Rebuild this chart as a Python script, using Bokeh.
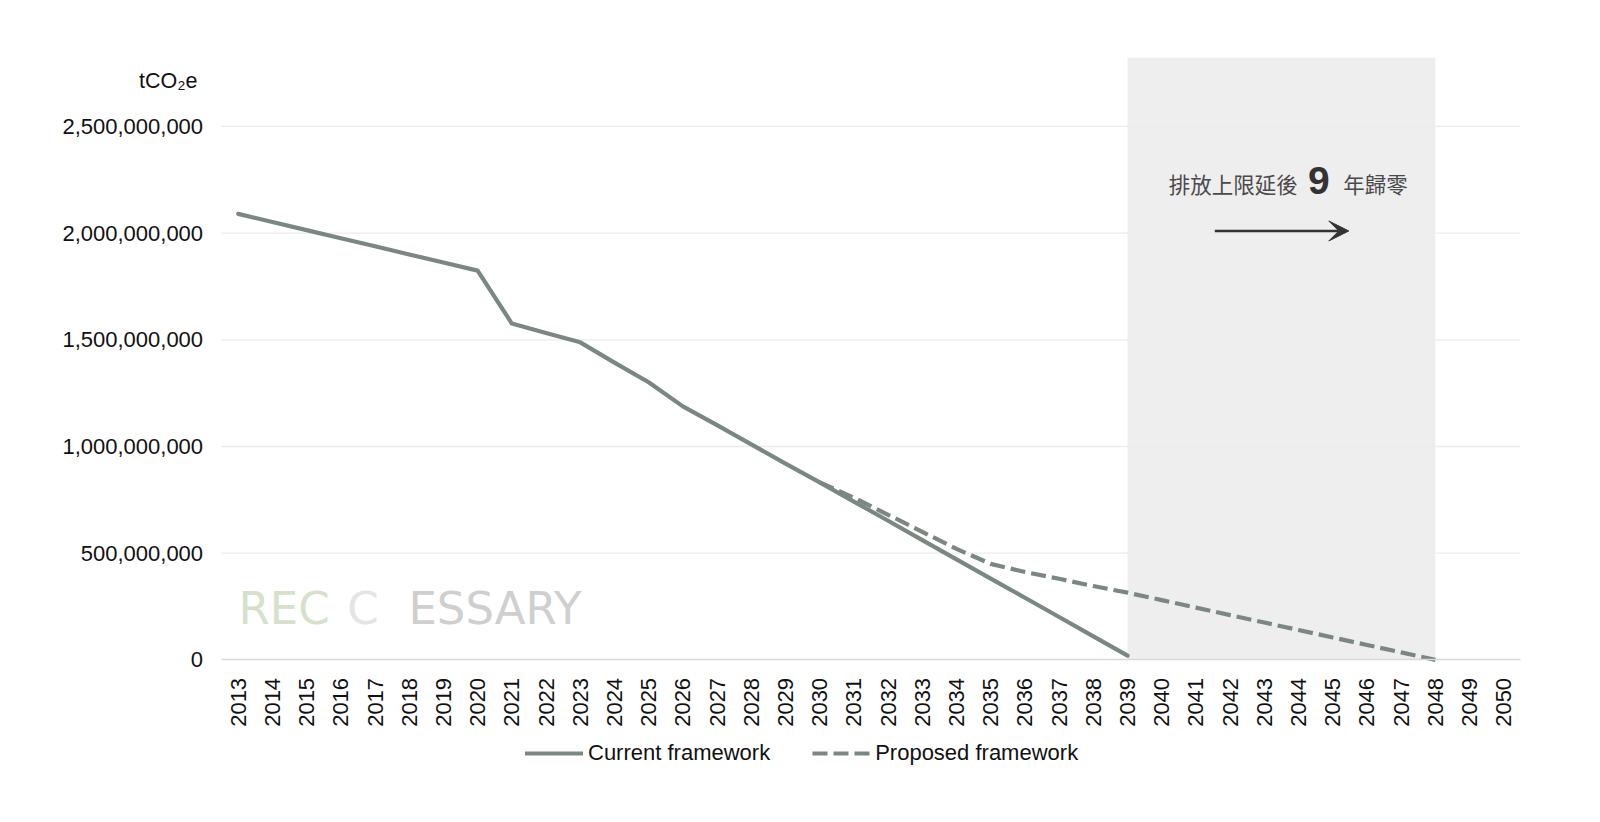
from bokeh.plotting import figure
from bokeh.models import (Range1d, FixedTicker, NumeralTickFormatter, BoxAnnotation, Label,
                          Legend, LegendItem, Arrow, VeeHead, ColumnDataSource)
from bokeh.core.properties import value
from bokeh.embed import file_html
from bokeh.resources import INLINE

# ---------------- data ----------------
years = list(range(2013, 2051))
current_years = list(range(2013, 2040))
current_values = [2.090e9, 2.052e9, 2.014e9, 1.976e9, 1.938e9, 1.900e9, 1.862e9, 1.824e9,
                  1.576e9, 1.532e9, 1.488e9, 1.393e9, 1.301e9, 1.188e9, 1.100e9, 1.010e9,
                  0.920e9, 0.832e9, 0.742e9, 0.652e9, 0.561e9, 0.471e9, 0.381e9, 0.291e9,
                  0.201e9, 0.110e9, 0.020e9]
proposed_years = list(range(2030, 2049))
proposed_values = [0.832e9, 0.760e9, 0.680e9, 0.600e9, 0.520e9, 0.450e9, 0.412e9, 0.380e9,
                   0.346e9, 0.315e9, 0.280e9, 0.245e9, 0.210e9, 0.175e9, 0.140e9, 0.105e9,
                   0.070e9, 0.035e9, 0.0]
y_ticks = [0, 500_000_000, 1_000_000_000, 1_500_000_000, 2_000_000_000, 2_500_000_000]
band_start, band_end = 2039, 2048
series_names = ["Current framework", "Proposed framework"]
y_title = "tCO\u2082e"
note_parts = ["排放上限延後", "9", "年歸零"]
watermark_parts = ["REC", "C", "ESSARY"]

LINE = "#7b8781"
FONT = "Liberation Sans"

# plot-area extents (data units)
X_LEFT, X_RIGHT = 2012.5, 2050.488
Y_TOP = 2.8215e9

p = figure(width=1584, height=806, output_backend="svg", toolbar_location=None,
           x_range=Range1d(2006.051, 2052.359), y_range=Range1d(-6.870e8, 3.0899e9),
           min_border=0, min_border_left=0, min_border_right=0,
           min_border_top=0, min_border_bottom=0)
p.outline_line_color = None
p.background_fill_color = "white"
p.border_fill_color = "white"
p.xgrid.grid_line_color = None
p.ygrid.grid_line_color = None

# shaded band
band = BoxAnnotation(left=band_start, right=band_end, bottom=0, top=Y_TOP,
                     fill_color="#eeeeee", fill_alpha=1.0, line_color=None, level="underlay")
p.add_layout(band)

# horizontal gridlines limited to the plot area
grid_y = y_ticks[1:]
p.segment(x0=[X_LEFT] * len(grid_y), x1=[X_RIGHT] * len(grid_y), y0=grid_y, y1=grid_y,
          line_color="#ececec", line_width=1.3)

# axes
p.xaxis.fixed_location = 0
p.xaxis.bounds = (X_LEFT, X_RIGHT)
p.xaxis.ticker = FixedTicker(ticks=years)
p.xaxis.major_label_overrides = {y: str(y) for y in years}
p.xaxis.major_label_orientation = 1.5707963
p.xaxis.major_tick_line_color = None
p.xaxis.minor_tick_line_color = None
p.xaxis.axis_line_color = "#d9d9d9"
p.xaxis.axis_line_width = 1.5
p.xaxis.major_label_standoff = 12
p.xaxis.major_label_text_font = FONT
p.xaxis.major_label_text_font_size = "22px"
p.xaxis.major_label_text_color = "#111111"

p.yaxis.fixed_location = X_LEFT
p.yaxis.bounds = (0, y_ticks[-1])
p.yaxis.ticker = FixedTicker(ticks=y_ticks)
p.yaxis.formatter = NumeralTickFormatter(format="0,0")
p.yaxis.major_tick_line_color = None
p.yaxis.minor_tick_line_color = None
p.yaxis.axis_line_color = None
p.yaxis.major_label_standoff = 12
p.yaxis.major_label_text_font = FONT
p.yaxis.major_label_text_font_size = "22px"
p.yaxis.major_label_text_color = "#111111"

# watermark
wm_src = ColumnDataSource(dict(x=[2014.339, 2016.646, 2020.505], y=[2.43e8] * 3,
                               t=watermark_parts,
                               c=["#d6e1cc", "#e4e4e4", "#cfcfcf"]))
p.text(x="x", y="y", text="t", source=wm_src, text_color="c", text_align="center",
       text_baseline="alphabetic", text_font=value("DejaVu Sans"), text_font_size="45px",
       level="underlay")

# lines
r_cur = p.line(current_years, current_values, line_color=LINE, line_width=4.2,
               line_join="round", line_cap="round")
r_prop = p.line(proposed_years, proposed_values, line_color=LINE, line_width=4.2,
                line_dash="15 6", line_join="round")

# y title
p.add_layout(Label(x=2011.81, y=2.715e9, text=y_title, text_align="right",
                   text_baseline="middle", text_font=FONT, text_font_size="21.5px",
                   text_color="#111111"))

# annotation
p.add_layout(Label(x=2040.206, y=2.234e9, text=note_parts[0], text_align="left",
                   text_baseline="middle", text_font="Noto Sans CJK TC",
                   text_font_size="21.5px", text_color="#4a4a4a"))
p.add_layout(Label(x=2044.591, y=2.245e9, text=note_parts[1], text_align="center",
                   text_baseline="middle", text_font=FONT, text_font_style="bold",
                   text_font_size="39px", text_color="#333333"))
p.add_layout(Label(x=2045.307, y=2.234e9, text=note_parts[2], text_align="left",
                   text_baseline="middle", text_font="Noto Sans CJK TC",
                   text_font_size="21.5px", text_color="#4a4a4a"))
p.add_layout(Arrow(x_start=2041.551, y_start=2.01e9, x_end=2045.468, y_end=2.01e9,
                   line_color="#333333", line_width=2.5,
                   end=VeeHead(size=20, fill_color="#333333", line_color="#333333")))

# legend
legend = Legend(items=[LegendItem(label=series_names[0], renderers=[r_cur]),
                       LegendItem(label=series_names[1], renderers=[r_prop])],
                orientation="horizontal", location=(525, 40),
                glyph_width=58, glyph_height=22, label_standoff=5, spacing=42,
                padding=0, margin=0, border_line_color=None, background_fill_alpha=0,
                label_text_font=FONT, label_text_font_size="22px",
                label_text_color="#111111", label_height=22)
p.add_layout(legend, "center")

open("out.html", "w").write(file_html(p, INLINE))
